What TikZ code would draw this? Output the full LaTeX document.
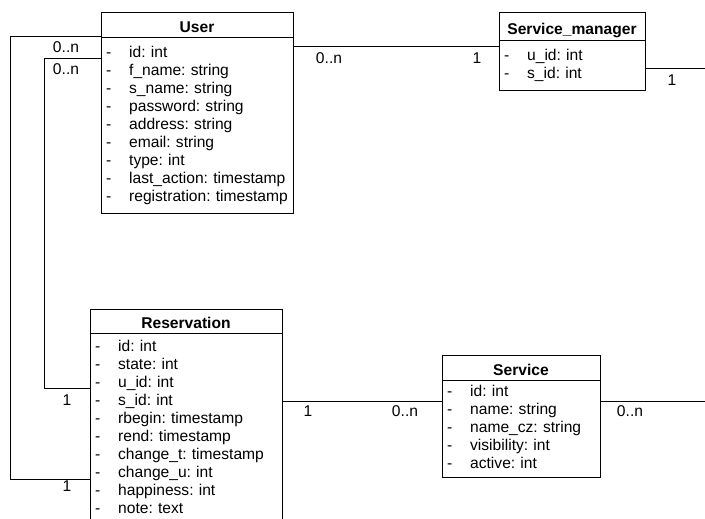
\documentclass[tikz,border=0pt]{standalone}
\usepackage{fontspec}
\setmainfont{Liberation Sans}
\usetikzlibrary{positioning}
\frenchspacing
\newcommand{\attrs}[1]{\begin{tabular}{@{}l@{\hspace{18pt}}l@{}}#1\end{tabular}}

\begin{document}
\begin{tikzpicture}[x=1pt,y=-1pt,line width=1pt,
  classhead/.style={draw, outer sep=0pt, inner sep=0pt, anchor=north west, text height=15pt, text depth=0pt, font=\fontsize{15.6}{18}\selectfont\bfseries},
  classbody/.style={draw, outer sep=0pt, inner xsep=5pt, inner ysep=0pt, align=left, font=\fontsize{15.6}{18}\selectfont},
  mult/.style={inner sep=0pt, font=\fontsize{15.6}{18}\selectfont}]
\useasboundingbox (0,0) rectangle (705,519);
%
\node[classhead, minimum width=192pt, minimum height=25pt] (userh) at (101,13) {User};
\node[classbody, below=0pt of userh, text width=182pt, minimum height=175pt] (userb)
  {\attrs{- & id: int\\ - & f\_name: string\\ - & s\_name: string\\ - & password: string\\
   - & address: string\\ - & email: string\\ - & type: int\\ - & last\_action: timestamp\\
   - & registration: timestamp}};
%
\node[classhead, minimum width=146pt, minimum height=28pt] (smh) at (499,13) {Service\_manager};
\node[classbody, below=0pt of smh, text width=136pt, minimum height=50pt] (smb)
  {\attrs{- & u\_id: int\\ - & s\_id: int}};
%
\node[classhead, minimum width=192pt, minimum height=24pt] (resh) at (90,309) {Reservation};
\node[classbody, below=0pt of resh, text width=182pt, minimum height=192pt] (resb)
  {\attrs{- & id: int\\ - & state: int\\ - & u\_id: int\\ - & s\_id: int\\
   - & rbegin: timestamp\\ - & rend: timestamp\\ - & change\_t: timestamp\\
   - & change\_u: int\\ - & happiness: int\\ - & note: text}};
%
\node[classhead, minimum width=158pt, minimum height=25pt] (servh) at (442,355) {Service};
\node[classbody, below=0pt of servh, text width=148pt, minimum height=97pt] (servb)
  {\attrs{- & id: int\\ - & name: string\\ - & name\_cz: string\\ - & visibility: int\\
   - & active: int}};
%
\coordinate (edge) at (705,0);
\draw ([yshift=1pt]userh.south west) -- ++(-91,0) |- ([yshift=-146pt]resb.north west);
\draw ([yshift=-21pt]userb.north west) -- ++(-57,0) |- ([yshift=-55pt]resb.north west);
%
\coordinate (smin) at ([yshift=-6pt]smb.north west);
\draw (smin -| userb.east) -- (smin);
\coordinate (smout) at ([yshift=-28pt]smb.north east);
\draw (smout) -- (smout -| edge);
%
\coordinate (resout) at ([yshift=-68pt]resb.north east);
\draw (resout) -- (resout -| servb.west);
\draw (resout -| servb.east) -- (resout -| edge);
%
\node[mult] (mu1) at (66,47) {0..n};
\node[mult] (mu2) at (66,69) {0..n};
\node[mult] (mr1) at (67,400) {1};
\node[mult] (mr2) at (67,486) {1};
\node[mult] (mu3) at (329,58) {0..n};
\node[mult] (ms1) at (477,58) {1};
\node[mult] (ms2) at (672,80) {1};
\node[mult] (mr3) at (308,411) {1};
\node[mult] (mv1) at (405,411) {0..n};
\node[mult] (mv2) at (630,411) {0..n};
\end{tikzpicture}
\end{document}
